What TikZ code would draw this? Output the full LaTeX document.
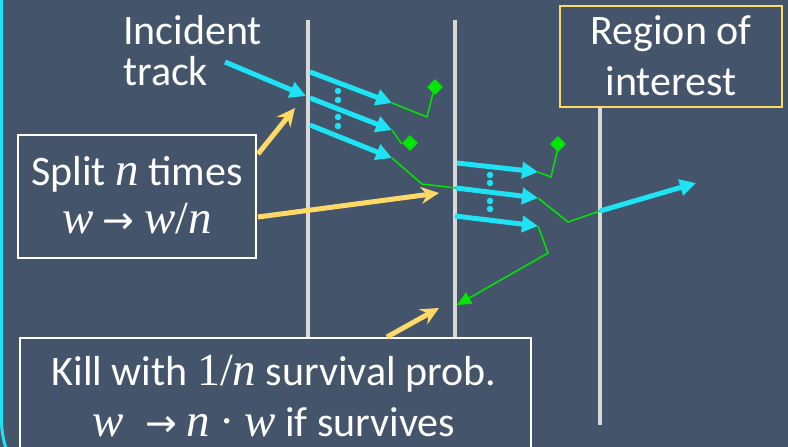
\documentclass[tikz,border=0pt]{standalone}
\usepackage{fontspec}
\setmainfont{Carlito}
\newfontfamily\mth{Liberation Serif}
\newfontfamily\arw{DejaVu Sans}
\newcommand{\mv}[1]{{\mth\itshape\fontsize{47}{47}\selectfont #1}}
\newcommand{\mup}[1]{{\mth\fontsize{46}{46}\selectfont #1}}
\newcommand{\marr}{{\arw\fontsize{38}{38}\selectfont →}}
\usetikzlibrary{arrows.meta,shapes.geometric,calc}
\definecolor{bg}{HTML}{44546A}
\definecolor{trk}{HTML}{1EE3F5}
\definecolor{ylw}{HTML}{FFD966}
\definecolor{grn}{HTML}{00E600}
\definecolor{wall}{HTML}{D9D9D9}
\begin{document}
\begin{tikzpicture}[x=1pt,y=-1pt,
  txt/.style={text=white, font=\fontsize{42}{42}\selectfont, inner sep=0pt},
  wbox/.style={draw=white, line width=2pt, fill=bg, inner sep=0pt},
  ybox/.style={draw=ylw, line width=2pt, fill=bg, inner sep=0pt},
  wallline/.style={draw=wall, line width=4pt},
  track/.style={draw=trk, line width=5pt, -{Triangle[length=16pt,width=16pt]}},
  hint/.style={draw=ylw, line width=5pt, -{Stealth[length=18pt,width=17pt,inset=6pt]}},
  gpath/.style={draw=grn, line width=1.5pt},
  gdiam/.style={diamond, fill=grn, minimum size=16pt, inner sep=0pt},
  dotc/.style={circle, fill=trk, minimum size=6.5pt, inner sep=0pt}
]
\clip (0,0) rectangle (788,447);
\fill[bg] (0,0) rectangle (788,447);
% cyan frame edge
\draw[trk, line width=3pt, rounded corners=90pt] (1.5,-50) -- (1.5,510) -- (900,510);

% walls
\coordinate (w1t) at (308,20);  \coordinate (w1b) at (308,337);
\coordinate (w2t) at (455,20);  \coordinate (w2b) at (455,337);
\coordinate (w3t) at (600,107); \coordinate (w3b) at (600,425);
\draw[wallline] (w1t) -- (w1b);
\draw[wallline] (w2t) -- (w2b);
\draw[wallline] (w3t) -- (w3b);

% boxes
\node[wbox, minimum width=238pt, minimum height=123pt] (split) at (137,196.5) {};
\node[ybox, minimum width=222pt, minimum height=101pt] (roi) at (671,56.5) {};
\node[wbox, anchor=north west, minimum width=511.5pt, minimum height=140pt] (kill) at (18.5,337) {};

% yellow hint arrows
\coordinate (y1t) at (295,108);
\coordinate (y2t) at (439,193);
\coordinate (y3t) at (439,308);
\draw[hint] ($(split.north east)+(1,20)$) -- (y1t);
\draw[hint] ($(split.north east)+(1,83)$) -- (y2t);
\draw[hint] ($(kill.north west)+(368.5,0)$) -- (y3t);

% incident track
\coordinate (inc0) at (225,62);
\coordinate (inc1) at (306,96);
\draw[track] (inc0) -- (inc1);

% first split
\coordinate (a0) at (310,72);  \coordinate (a1) at (392,103);
\coordinate (b0) at (310,98);  \coordinate (b1) at (392,130);
\coordinate (c0) at (310,125); \coordinate (c1) at (392,158);
\draw[track] (a0) -- (a1);
\draw[track] (b0) -- (b1);
\draw[track] (c0) -- (c1);
\node[dotc] (p1) at (338,91) {};
\node[dotc] (p2) at (338,100) {};
\node[dotc] (p3) at (338,117) {};
\node[dotc] (p4) at (338,126) {};

% second split
\coordinate (d0) at (457,163); \coordinate (d1) at (538,172);
\coordinate (e0) at (456,188); \coordinate (e1) at (538,198);
\coordinate (f0) at (455,216); \coordinate (f1) at (538,226);
\draw[track] (d0) -- (d1);
\draw[track] (e0) -- (e1);
\draw[track] (f0) -- (f1);
\node[dotc] (q1) at (490,175) {};
\node[dotc] (q2) at (490,183) {};
\node[dotc] (q3) at (490,201) {};
\node[dotc] (q4) at (490,209) {};

% green paths and kills
\node[gdiam] (k1) at (435,87) {};
\node[gdiam] (k2) at (410,143) {};
\node[gdiam] (k3) at (558,144) {};
\coordinate (ga1) at (427,117); \coordinate (ga2) at (433,93);
\draw[gpath] (a1) -- (ga1) -- (ga2) -- (k1);
\coordinate (gb1) at (401,143);
\draw[gpath] (b1) -- (gb1) -- (k2);
\coordinate (gc1) at (422,184);
\draw[gpath] (c1) -- (gc1) -- (e0);
\coordinate (gd1) at (551,177); \coordinate (gd2) at (557,152);
\draw[gpath] (d1) -- (gd1) -- (gd2) -- (k3);
\coordinate (ge1) at (568,222); \coordinate (ge2) at (600,211);
\draw[gpath] (e1) -- (ge1) -- (ge2);
\coordinate (gf1) at (548,253); \coordinate (gf2) at (457,305);
\draw[gpath, -{Triangle[length=14pt,width=13pt]}] (f1) -- (gf1) -- (gf2);

% escaping track
\coordinate (out1) at (696,183);
\draw[track] (ge2) -- (out1);

% texts
\node[txt, anchor=base west] (inc) at (123,45) {Incident};
\node[txt, anchor=base west] (trk) at (123,85) {track};
\node[txt, anchor=base] (roiA) at (671,45) {Region of};
\node[txt, anchor=base] (roiB) at (671,95) {interest};
\node[txt, anchor=base] (splA) at (137,185) {Split \mv{n} times};
\node[txt, anchor=base] (splB) at (137,233) {\mv{w} \marr{} \mv{w}\mup{/}\mv{n}};
\node[txt, anchor=base] (kilA) at (274,385) {Kill with \mup{1/}\mv{n} survival prob.};
\node[txt, anchor=base] (kilB) at (274,436) {\mv{w}\enspace\marr{} \mv{n} \mup{·} \mv{w} if survives};
\end{tikzpicture}
\end{document}
